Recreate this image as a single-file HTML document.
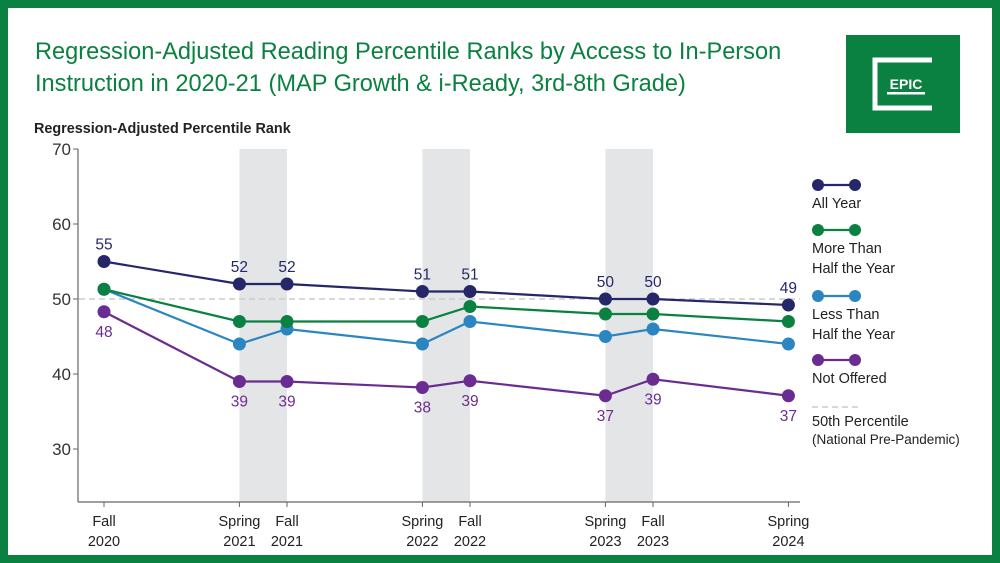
<!DOCTYPE html>
<html><head><meta charset="utf-8"><style>
body{margin:0;width:1000px;height:563px;overflow:hidden;font-family:"Liberation Sans",sans-serif;}
.frame{position:absolute;left:0;top:0;width:1000px;height:563px;background:#fff;box-sizing:border-box;border:8px solid #0a8140;}
</style></head><body>
<div class="frame"></div>
<svg width="1000" height="563" style="position:absolute;left:0;top:0" id="chart">
<text x="35" y="59" font-size="23.6" fill="#0a8140">Regression-Adjusted Reading Percentile Ranks by Access to In-Person</text>
<text x="35" y="91" font-size="23.6" fill="#0a8140">Instruction in 2020-21 (MAP Growth &amp; i-Ready, 3rd-8th Grade)</text>
<g>
<rect x="846" y="35" width="114" height="98" fill="#0a8140"/>
<path d="M932 60 H875 V108 H932" fill="none" stroke="#fff" stroke-width="5"/>
<text x="906" y="89" font-size="14" font-weight="bold" fill="#fff" text-anchor="middle">EPIC</text>
<rect x="887" y="92" width="38" height="2.5" fill="#fff"/>
</g>
<text x="34" y="133" font-size="14.4" font-weight="bold" fill="#222">Regression-Adjusted Percentile Rank</text>
<g id="plot"></g>
</svg>
<script>
const categories=["Fall\n2020","Spring\n2021","Fall\n2021","Spring\n2022","Fall\n2022","Spring\n2023","Fall\n2023","Spring\n2024"];
const times=[0,0.74,1,1.74,2,2.74,3,3.74];
const allYear=[55,52,52,51,51,50,50,49.2];
const moreHalf=[51.3,47,47,47,49,48,48,47];
const lessHalf=[51.3,44,46,44,47,45,46,44];
const notOffered=[48.3,39,39,38.2,39.1,37.1,39.3,37.1];
const allYearLabels=["55","52","52","51","51","50","50","49"];
const notOfferedLabels=["48","39","39","38","39","37","39","37"];
const yTicks=[30,40,50,60,70];
const bands=[[0.74,1],[1.74,2],[2.74,3]];
const NS="http://www.w3.org/2000/svg";
const g=document.getElementById('plot');
const xs=t=>104+t*183;
const ys=v=>299-(v-50)*7.5;
function el(tag,attrs,parent){const e=document.createElementNS(NS,tag);for(const k in attrs)e.setAttribute(k,attrs[k]);(parent||g).appendChild(e);return e;}
bands.forEach(b=>{const r=el('rect',{x:xs(b[0]),y:149,width:xs(b[1])-xs(b[0]),height:353,fill:'#e4e5e7'});

});
const ref=el('line',{x1:79,x2:800,y1:ys(50),y2:ys(50),stroke:'#ccc','stroke-width':1.5,'stroke-dasharray':'6,4'});


el('line',{x1:78,x2:78,y1:149,y2:502,stroke:'#666','stroke-width':1.2});
el('line',{x1:78,x2:800,y1:502,y2:502,stroke:'#666','stroke-width':1.2});
yTicks.forEach(v=>{el('line',{x1:73,x2:78,y1:ys(v),y2:ys(v),stroke:'#666'});
const t=el('text',{x:71,y:ys(v)+6,'font-size':17,fill:'#333','text-anchor':'end'});t.textContent=v;

});
categories.forEach((c,i)=>{const x=xs(times[i]);el('line',{x1:x,x2:x,y1:502,y2:507,stroke:'#666'});
c.split('\n').forEach((s,j)=>{const t=el('text',{x:x,y:526+j*20,'font-size':14.5,fill:'#222','text-anchor':'middle'});t.textContent=s;

});});
const series=[[notOffered,'#6b2c91','not-offered'],[lessHalf,'#2a85c0','less-than-half'],[moreHalf,'#0a8140','more-than-half'],[allYear,'#252769','all-year']];
series.forEach(([d,c,n])=>{const ln=el('polyline',{points:d.map((v,i)=>xs(times[i])+','+ys(v)).join(' '),fill:'none',stroke:c,'stroke-width':2.2});


d.forEach((v,i)=>{const p=el('circle',{cx:xs(times[i]),cy:ys(v),r:6.5,fill:c});

});});
allYear.forEach((v,i)=>{const t=el('text',{x:xs(times[i]),y:ys(v)-12,'font-size':15.5,fill:'#252769','text-anchor':'middle'});t.textContent=allYearLabels[i];

});
notOffered.forEach((v,i)=>{const t=el('text',{x:xs(times[i]),y:ys(v)+25,'font-size':15.5,fill:'#6b2c91','text-anchor':'middle'});t.textContent=notOfferedLabels[i];

});
const legend=[['#252769',['All Year'],185],['#0a8140',['More Than','Half the Year'],230],['#2a85c0',['Less Than','Half the Year'],296],['#6b2c91',['Not Offered'],360]];
legend.forEach(([c,lines,y])=>{const lg=el('g',{});


el('line',{x1:818,x2:855,y1:y,y2:y,stroke:c,'stroke-width':2.2},lg);
el('circle',{cx:818,cy:y,r:6,fill:c},lg);el('circle',{cx:855,cy:y,r:6,fill:c},lg);
lines.forEach((s,j)=>{const t=el('text',{x:812,y:y+23+j*20,'font-size':14.5,fill:'#222'},lg);t.textContent=s;});});
const rl=el('g',{});


el('line',{x1:812,x2:862,y1:407,y2:407,stroke:'#ccc','stroke-width':1.5,'stroke-dasharray':'6,4'},rl);
const t1=el('text',{x:812,y:426,'font-size':14.5,fill:'#222'},rl);t1.textContent='50th Percentile';
const t2=el('text',{x:812,y:444,'font-size':13.5,fill:'#222'},rl);t2.textContent='(National Pre-Pandemic)';
</script>
</body></html>
